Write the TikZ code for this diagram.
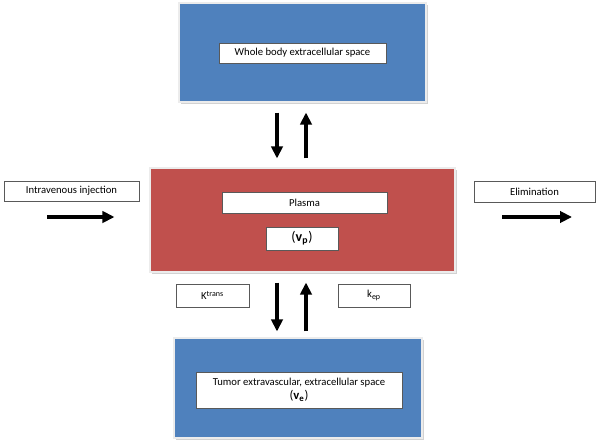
\documentclass[tikz,border=0pt]{standalone}
\usepackage{fontspec}
\setmainfont{Carlito}
\usepackage{tikz}
\usetikzlibrary{shapes,arrows,positioning,calc,arrows.meta,shadows}
\definecolor{compblue}{HTML}{4F81BD}
\definecolor{compred}{HTML}{C0504D}
\tikzstyle{compartment} = [rectangle, draw=white!85!gray, line width=0.8pt, drop shadow={shadow xshift=1.5pt, shadow yshift=-1.5pt, fill=black!35, opacity=0.5}]
\tikzstyle{tag} = [rectangle, draw=black!65, fill=white, line width=0.5pt, font=\fontsize{8}{9.5}\selectfont, inner sep=1pt, align=center, drop shadow={shadow xshift=0.7pt, shadow yshift=-0.7pt, fill=black!30, opacity=0.5}]
\tikzstyle{flow} = [-{Triangle[length=9pt, width=8.5pt]}, line width=3.2pt, black]
\newcommand{\bigvar}[3]{{\fontsize{#3}{11}\selectfont(\textbf{#1}\textsubscript{\textbf{#2}})}}

\begin{document}
\begin{tikzpicture}[x=0.75pt, y=-0.75pt]
    \useasboundingbox (0,0) rectangle (600,446);
    % Compartments
    \node[compartment, fill=compblue, minimum width=185.25pt, minimum height=74.25pt] (wbs) at (302.5,52.5) {};
    \node[compartment, fill=compred, minimum width=228.75pt, minimum height=78pt] (plasma) at (302.5,220) {};
    \node[compartment, fill=compblue, minimum width=186pt, minimum height=75pt] (tees) at (298,388) {};

    % Labels
    \node[tag, minimum width=125.25pt, minimum height=15pt] (wbslabel) at (302.5,53) {Whole body extracellular space};
    \node[tag, minimum width=123.75pt, minimum height=15.75pt] (plasmalabel) at (304.5,202.5) {Plasma};
    \node[tag, minimum width=54pt, minimum height=17.25pt] (vp) at (302,238.5) {\bigvar{v}{p}{10.5}};
    \node[tag, minimum width=54.75pt, minimum height=17.25pt] (ktrans) at (212.5,295.5) {K\textsuperscript{trans}};
    \node[tag, minimum width=54pt, minimum height=17.25pt] (kep) at (374,295.5) {k\textsubscript{ep}};
    \node[tag, minimum width=154.5pt, minimum height=27pt] (teeslabel) at (299,390) {Tumor extravascular, extracellular space\\[1pt]\bigvar{v}{e}{9.5}};
    \node[tag, minimum width=101.25pt, minimum height=15pt] (inj) at (71.5,191) {Intravenous injection};
    \node[tag, minimum width=90.75pt, minimum height=15.75pt] (elim) at (534.5,191.5) {Elimination};

    % Free arrow ends
    \coordinate (injstart) at (47,217);
    \coordinate (elimstart) at (502,217);
    \coordinate (elimend) at (572,217);

    % Exchange
    \draw[flow, shorten <=7.5pt, shorten >=6.75pt] ($(wbs.south)+(-25.5,0)$) -- ($(plasma.north)+(-25.5,0)$);
    \draw[flow, shorten <=6.75pt, shorten >=7.5pt] ($(plasma.north)+(3.5,0)$) -- ($(wbs.south)+(3.5,0)$);
    \draw[flow, shorten <=7.5pt, shorten >=4.5pt] ($(plasma.south)+(-25.5,0)$) -- ($(tees.north)+(-21,0)$);
    \draw[flow, shorten <=4.5pt, shorten >=7.5pt] ($(tees.north)+(8,0)$) -- ($(plasma.south)+(3.5,0)$);

    % Input and output
    \draw[flow, shorten >=26.25pt] (injstart) -- (injstart -| plasma.west);
    \draw[flow] (elimstart) -- (elimend);
\end{tikzpicture}
\end{document}
